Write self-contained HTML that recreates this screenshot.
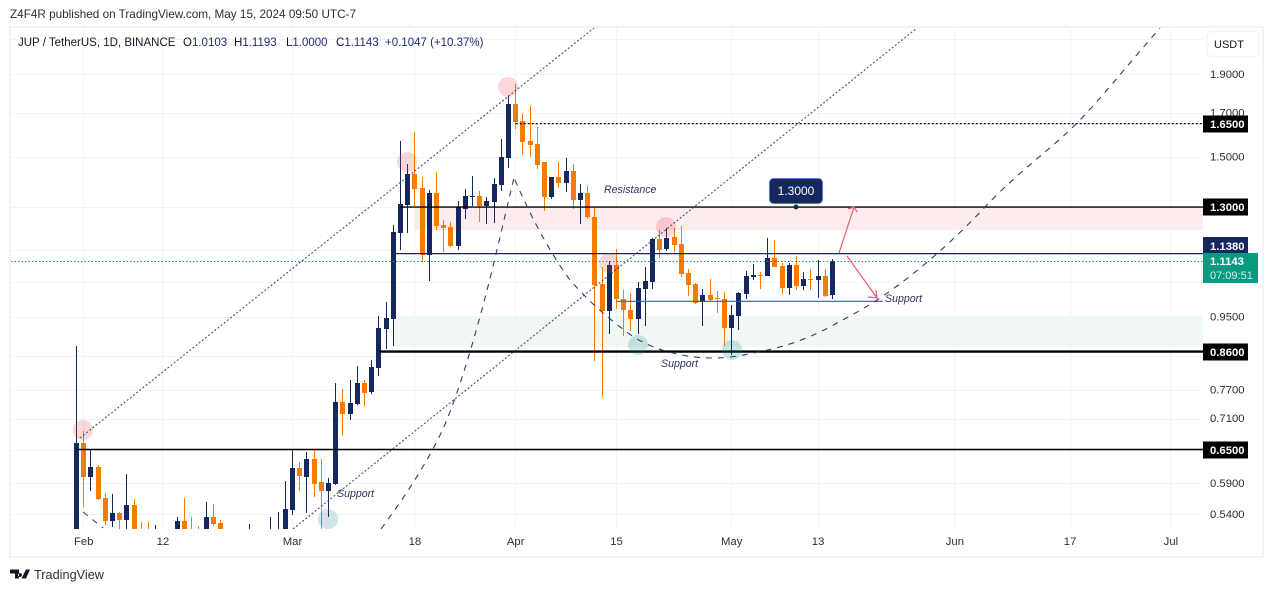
<!DOCTYPE html>
<html lang="en">
<head>
<meta charset="utf-8">
<title>JUP / TetherUS chart</title>
<style>
html,body{margin:0;padding:0;background:#fff;width:1273px;height:592px;overflow:hidden}
svg{display:block;font-family:"Liberation Sans",sans-serif}
</style>
</head>
<body>
<svg id="chart" width="1273" height="592" viewBox="0 0 1273 592" xmlns="http://www.w3.org/2000/svg">
<defs><clipPath id="plot"><rect x="11" y="28" width="1192" height="501"/></clipPath></defs>
<text x="10" y="18" font-size="12" fill="#2a2e39" textLength="346" lengthAdjust="spacingAndGlyphs">Z4F4R published on TradingView.com, May 15, 2024 09:50 UTC-7</text>
<rect x="10" y="27" width="1253" height="530" fill="#fff" stroke="#f0f3fa" stroke-width="2"/>
<g id="grid"></g>
<g clip-path="url(#plot)">
  <rect x="414" y="207" width="789" height="23" fill="#fdecee"/>
  <rect x="393" y="316" width="810" height="31" fill="#f1f8f3"/>
  <g id="candles"></g>
  <g id="levels"></g>
  <line x1="80" y1="438" x2="594" y2="28" stroke="#2a3560" stroke-width="1.2" stroke-dasharray="2 2" opacity=".8"/>
  <line x1="293" y1="529" x2="917" y2="28" stroke="#2a3560" stroke-width="1.2" stroke-dasharray="2 2" opacity=".8"/>
  <path d="M83 512 L103 528" fill="none" stroke="#2f3d72" stroke-width="1.1" stroke-dasharray="6 6"/>
  <path d="M381 529 C 410 490 435 450 448 417 C 460 387 474 340 485 298 C 495 260 505 215 514 178" fill="none" stroke="#2f3d72" stroke-width="1.1" stroke-dasharray="6 6"/>
  <path d="M515 180 C 530 215 550 253 570 280 C 590 303 610 320 635 338 C 650 346 660 350 673 353 C 690 357 700 358 713 358 C 728 358 740 356 753 353 C 770 350 780 347 793 343 C 810 337 825 330 837 323 C 850 316 865 308 877 300 C 900 285 940 255 985 207 C 1020 170 1050 150 1075 125 C 1100 100 1130 62 1160 28" fill="none" stroke="#2f3d72" stroke-width="1.1" stroke-dasharray="6 6"/>
  <g fill="#f23645" fill-opacity=".2">
    <circle cx="83" cy="430" r="10"/>
    <circle cx="407" cy="162" r="10"/>
    <circle cx="508" cy="87" r="10"/>
    <circle cx="609" cy="263" r="10"/>
    <circle cx="666" cy="227" r="10"/>
  </g>
  <g fill="#00897b" fill-opacity=".2">
    <circle cx="328" cy="519" r="10"/>
    <circle cx="638" cy="345" r="10"/>
    <circle cx="732" cy="350" r="10"/>
  </g>
  <g font-size="10.6" font-style="italic" fill="#2a3560">
    <text x="604" y="193">Resistance</text>
    <text x="661" y="367">Support</text>
    <text x="337" y="497">Support</text>
    <text x="885" y="302">Support</text>
  </g>
  <g stroke="#f4566a" stroke-width="1.2" fill="none">
    <path d="M839 253 L854 207 M848 209 L854 207 L857 212"/>
    <path d="M847 256 L877 298 M868 297 L877 298 L876 290"/>
  </g>
</g>
<g>
  <rect x="769.5" y="178.5" width="53" height="25" rx="4" fill="#14275f" stroke="#2962ff" stroke-opacity=".5"/>
  <text x="796" y="195" font-size="12" fill="#fff" text-anchor="middle">1.3000</text>
  <circle cx="796" cy="207" r="2.5" fill="#14275f"/>
</g>
<g id="legend" font-size="11.5">
  <text x="18" y="46" fill="#131722">JUP / TetherUS, 1D, BINANCE</text>
  <text x="183" y="46" fill="#131722">O<tspan fill="#1f2f6e">1.0103</tspan></text>
  <text x="234" y="46" fill="#131722">H<tspan fill="#1f2f6e">1.1193</tspan></text>
  <text x="286" y="46" fill="#131722">L<tspan fill="#1f2f6e">1.0000</tspan></text>
  <text x="336" y="46" fill="#131722">C<tspan fill="#1f2f6e">1.1143</tspan></text>
  <text x="385" y="46" fill="#1f2f6e">+0.1047 (+10.37%)</text>
</g>
<g id="axis"></g>
<g id="time"></g>
<g>
  <rect x="1207" y="31.5" width="52" height="25" rx="4" fill="#fff" stroke="#f0f3fa" stroke-width="1.5"/>
  <text x="1229" y="48" font-size="11" fill="#131722" text-anchor="middle">USDT</text>
</g>
<g>
  <path fill="#131722" d="M10 569.5h9v9h-4v-5h-5z M20 573a2 2 0 1 0 .01 0z M26 569.5h4l-4 9h-4.5z"/>
  <text x="34" y="579" font-size="13" fill="#2a2e39" textLength="70" lengthAdjust="spacingAndGlyphs">TradingView</text>
</g>
<script>
// Daily candles from Jan 31 (index 0) to May 15 (index 105), prices in USDT
const opens = [.4735,.6618,.6009,.6178,.5654,.5299,.5417,.5309,.5542,.5087,.5087,.4943,.5087,.4943,.5014,.5294,.5087,.5087,.5014,.5355,.5264,.5087,.5000,.5060,.4943,.5087,.5000,.4943,.4943,.5087,.5463,.6161,.6004,.6321,.5918,.5769,.5885,.7440,.7189,.7398,.7856,.7656,.8199,.9167,.9432,1.2061,1.3067,1.4277,1.3717,1.1326,1.3522,1.2340,1.2270,1.1621,1.2917,1.3369,1.3407,1.3029,1.3179,1.3835,1.4942,1.7440,1.6612,1.5689,1.5556,1.4775,1.3369,1.4155,1.3915,1.4399,1.3253,1.3522,1.2626,1.0426,.9650,1.1008,.9987,.9677,.9432,1.0277,1.0485,1.1854,1.1521,1.1924,1.1688,1.0758,1.0426,.9902,1.0102,1.0016,.9987,.9193,.9514,1.0131,1.0636,1.0697,1.0667,1.1230,1.0976,1.0306,1.1008,1.0366,1.0575,1.0544,1.0667,1.0103];
const highs = [.8732,.6848,.6499,.6214,.5736,.5720,.5437,.6056,.5638,.5284,.5284,.5234,.5150,.5120,.5355,.5654,.5355,.5219,.5590,.5558,.5309,.5140,.5120,.5140,.5248,.5140,.5130,.5355,.5432,.5935,.6505,.6267,.6449,.6505,.6321,.5987,.7856,.7721,.7923,.8246,.7923,.8389,.9514,.9902,1.2340,1.5689,1.4691,1.6098,1.4155,1.3638,1.4359,1.2517,1.2446,1.3216,1.3677,1.4196,1.3600,1.3369,1.4114,1.5777,1.7843,1.8466,1.6949,1.7341,1.6330,1.4775,1.4155,1.4775,1.4943,1.4691,1.3875,1.3796,1.2955,1.0945,1.1134,1.1521,1.0247,1.0160,1.0485,1.0945,1.1890,1.2164,1.2235,1.2235,1.2305,1.0882,1.0455,1.0277,1.0575,1.0218,1.0189,.9818,1.0189,1.0819,1.1039,1.0789,1.1890,1.1821,1.1071,1.1071,1.1298,1.0789,1.0882,1.1165,1.0882,1.1193];
const lows = [.4600,.5515,.5769,.5622,.5234,.5209,.5087,.5087,.5014,.4873,.4943,.4873,.4900,.4873,.4943,.5014,.4943,.4943,.4943,.5219,.5014,.4900,.4900,.4900,.4873,.4900,.4900,.4873,.4873,.5014,.5386,.5769,.5417,.5671,.5014,.5355,.5868,.6751,.7066,.7377,.7356,.7612,.8015,.8657,.8732,1.1488,1.2061,1.3029,1.1102,1.0514,1.2164,1.1423,1.1588,1.1488,1.2553,1.3029,1.2446,1.2376,1.2411,1.3600,1.4524,1.6236,1.5075,1.4988,1.4482,1.2844,1.3291,1.3717,1.3561,1.2917,1.2376,1.2553,.8365,.7547,.9037,.9705,.8985,.9114,.9037,.9246,1.0277,1.1230,1.1456,1.1423,1.0636,1.0073,.9846,.9246,.9930,.9595,.8732,.8511,.9140,.9987,1.0544,1.0277,1.0667,1.0945,1.0131,1.0102,1.0247,1.0247,1.0247,1.0016,1.0044,1.0000];
const closes = [.6618,.6009,.6178,.5638,.5299,.5417,.5309,.5542,.5087,.4943,.5014,.5087,.5000,.5050,.5294,.5087,.5014,.5014,.5355,.5248,.5087,.5000,.5060,.5000,.5087,.5000,.5060,.5087,.5087,.5479,.6161,.6021,.6321,.5885,.5769,.5901,.7440,.7189,.7419,.7856,.7634,.8222,.9193,.9459,1.2095,1.3104,1.4277,1.3677,1.1326,1.3522,1.2305,1.2235,1.1621,1.2992,1.3407,1.3407,1.3029,1.3216,1.3875,1.4984,1.7440,1.6565,1.5644,1.5512,1.4650,1.3369,1.4155,1.3915,1.4399,1.3253,1.3522,1.2626,1.0396,.9650,1.1008,.9987,.9677,.9432,1.0306,1.0514,1.1854,1.1488,1.1890,1.1654,1.0728,1.0396,.9874,1.0102,.9958,.9987,.9193,.9541,1.0160,1.0667,1.0697,1.0667,1.1230,1.0945,1.0306,1.1008,1.0366,1.0575,1.0544,1.0667,1.0073,1.1143];

const priceTicks = [1.9,1.7,1.5,0.95,0.77,0.71,0.59,0.54];
const gridPrices = [2.1,1.9,1.7,1.5,1.3,1.15,1.05,0.95,0.85,0.77,0.71,0.65,0.59,0.54];
const timeLabels = ["Feb","12","Mar","18","Apr","15","May","13","Jun","17","Jul"];
const timeDays = [1,12,30,47,61,75,91,103,122,138,152];

const levelPrices = [1.65,1.3,1.138,0.86,0.65,0.993];
const levelStarts = [61,45,44,42,0,75];
const levelEnds = [158,158,158,158,158,112];
const lastPrice = 1.1143;
const countdown = "07:09:51";

const SVGNS = "http://www.w3.org/2000/svg";
function xAt(i){ return 76.5 + 7.2 * i; }
function yAt(p){ return 74.3 + 349.8 * Math.log(1.9 / p); }
function make(tag, attrs, parent, text){
  const el = document.createElementNS(SVGNS, tag);
  for (const k in attrs) el.setAttribute(k, attrs[k]);
  if (text !== undefined) el.textContent = text;
  parent.appendChild(el);
  return el;
}

const gridG = document.getElementById('grid');
gridPrices.forEach(function(p){
  const y = Math.round(yAt(p)) + 0.5;
  const el = make('line', {x1:11, x2:1203, y1:y, y2:y, stroke:'#f0f3fa', 'stroke-width':1}, gridG);
  
  
});
timeDays.forEach(function(d){
  const x = Math.floor(xAt(d)) + 0.5;
  const el = make('line', {x1:x, x2:x, y1:28, y2:529, stroke:'#f0f3fa', 'stroke-width':1}, gridG);
  
  
});

const candleG = document.getElementById('candles');
closes.forEach(function(c, i){
  const o = opens[i];
  const col = c >= o ? '#14275f' : '#f57c00';
  const px = Math.floor(xAt(i));
  const top = Math.round(yAt(Math.max(o, c)));
  const bot = Math.round(yAt(Math.min(o, c)));
  const hi = Math.round(yAt(highs[i]));
  const lo = Math.round(yAt(lows[i]));
  const wick = make('rect', {x:px, y:hi, width:1, height:Math.max(lo - hi, 1), fill:col}, candleG);
  
  
  const body = make('rect', {x:px - 2, y:top, width:5, height:Math.max(bot - top, 1), fill:col}, candleG);
  
  
});

const levelG = document.getElementById('levels');
const levelStyle = [
  {stroke:'#000', w:1.3, dash:'2 2'},
  {stroke:'#000', w:1.4, dash:''},
  {stroke:'#14275f', w:1.2, dash:''},
  {stroke:'#000', w:2.4, dash:''},
  {stroke:'#000', w:1.4, dash:''},
  {stroke:'#2f5bc4', w:1.1, dash:''}
];
levelPrices.forEach(function(p, i){
  const y = yAt(p);
  const st = levelStyle[i];
  const el = make('line', {x1:xAt(levelStarts[i]), x2:i === 5 ? xAt(levelEnds[i]) : 1203, y1:y, y2:y, stroke:st.stroke, 'stroke-width':st.w, 'stroke-dasharray':st.dash}, levelG);
  
  
});
const lastY = Math.round(yAt(lastPrice));
const lastLine = make('line', {x1:11, x2:1203, y1:lastY + 0.5, y2:lastY + 0.5, stroke:'#089981', 'stroke-width':1, 'stroke-dasharray':'1.5 2'}, levelG);



const axisG = document.getElementById('axis');
priceTicks.forEach(function(p){
  const t = make('text', {x:1210, y:yAt(p) + 3.5, 'font-size':11.3, fill:'#2a2e39'}, axisG, p.toFixed(4));
  
  
});
[0,1,3,4].forEach(function(i){
  const p = levelPrices[i];
  const yc = Math.round(yAt(p));
  const box = make('rect', {x:1203, y:yc - 8.5, width:45, height:17, fill:'#000'}, axisG);
  
  
  const t = make('text', {x:1210, y:yc + 4, 'font-size':11.3, 'font-weight':'bold', fill:'#fff'}, axisG, p.toFixed(4));
  
  
});
const navyTag = make('rect', {x:1203, y:237, width:45, height:17, fill:'#14275f'}, axisG);


const navyTxt = make('text', {x:1210, y:250, 'font-size':11.3, 'font-weight':'bold', fill:'#fff'}, axisG, levelPrices[2].toFixed(4));


const lastBox = make('rect', {x:1203, y:253, width:55, height:30, fill:'#089981'}, axisG);


const lastTxt = make('text', {x:1210, y:265, 'font-size':11.3, 'font-weight':'bold', fill:'#fff'}, axisG, lastPrice.toFixed(4));


const cdTxt = make('text', {x:1210, y:279, 'font-size':11, fill:'#d5f0ea'}, axisG, countdown);



const timeG = document.getElementById('time');
timeLabels.forEach(function(l, i){
  const t = make('text', {x:xAt(timeDays[i]), y:545, 'font-size':11.3, fill:'#2a2e39', 'text-anchor':'middle'}, timeG, l);
  
  
});
</script>
</svg>
</body>
</html>
